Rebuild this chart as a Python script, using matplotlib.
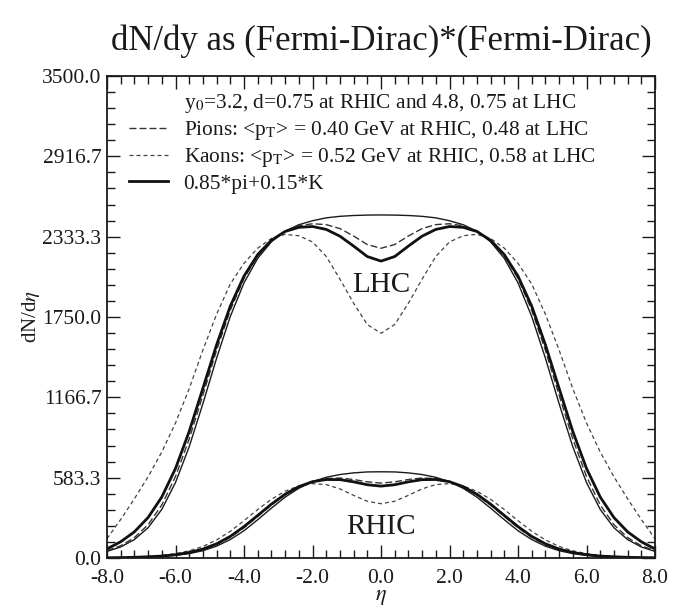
import matplotlib
matplotlib.use("Agg")
import matplotlib.pyplot as plt
from matplotlib.lines import Line2D
from matplotlib.ticker import MultipleLocator, FixedLocator, FormatStrFormatter

plt.rcParams['font.family'] = ['Liberation Serif', 'DejaVu Serif']
plt.rcParams['mathtext.fontset'] = 'stix'

# ---------------- data ----------------
eta = [-8.0, -7.6, -7.2, -6.8, -6.4, -6.0, -5.6, -5.2, -4.8, -4.4, -4.0,
       -3.6, -3.2, -2.8, -2.4, -2.0, -1.6, -1.2, -0.8, -0.4, 0.0,
       0.4, 0.8, 1.2, 1.6, 2.0, 2.4, 2.8, 3.2, 3.6, 4.0,
       4.4, 4.8, 5.2, 5.6, 6.0, 6.4, 6.8, 7.2, 7.6, 8.0]

# LHC
lhc_dndy = [48, 80, 134, 220, 353, 548, 808, 1121, 1451, 1754, 1998, 2176, 2296, 2373,
            2420, 2449, 2470, 2481, 2487, 2490, 2491, 2490, 2487, 2481, 2470, 2449,
            2420, 2373, 2296, 2176, 1998, 1754, 1451, 1121, 808, 548, 353, 220, 134, 80, 48]
lhc_pions = [53, 89, 148, 242, 385, 592, 864, 1183, 1509, 1800, 2031, 2195, 2305, 2375,
             2412, 2427, 2421, 2392, 2338, 2276, 2249, 2276, 2338, 2392, 2421, 2427,
             2412, 2375, 2305, 2195, 2031, 1800, 1509, 1183, 864, 592, 385, 242, 148, 89, 53]
lhc_kaons = [140, 280, 430, 590, 770, 980, 1230, 1510, 1770, 1990, 2140, 2250, 2320, 2350,
             2340, 2295, 2190, 2025, 1850, 1695, 1632, 1695, 1850, 2025, 2190, 2295,
             2340, 2350, 2320, 2250, 2140, 1990, 1770, 1510, 1230, 980, 770, 590, 430, 280, 140]
lhc_mix = [66, 118, 190, 294, 443, 650, 919, 1232, 1548, 1829, 2047, 2203, 2307, 2371,
           2401, 2407, 2386, 2337, 2265, 2189, 2156, 2189, 2265, 2337, 2386, 2407,
           2401, 2371, 2307, 2203, 2047, 1829, 1548, 1232, 919, 650, 443, 294, 190, 118, 66]

# RHIC
rhic_dndy = [1, 2, 4, 7, 12, 19, 32, 53, 86, 134, 198, 278, 362, 442, 506, 554, 586, 606,
             618, 625, 626, 625, 618, 606, 586, 554, 506, 442, 362, 278, 198, 134, 86, 53,
             32, 19, 12, 7, 4, 2, 1]
rhic_pions = [2, 3, 5, 8, 13, 22, 37, 61, 98, 150, 220, 302, 385, 459, 517, 556, 577, 581,
              570, 553, 544, 553, 570, 581, 577, 556, 517, 459, 385, 302, 220, 150, 98, 61,
              37, 22, 13, 8, 5, 3, 2]
rhic_kaons = [2, 4, 7, 11, 19, 32, 52, 84, 131, 194, 271, 352, 426, 485, 523, 540, 533, 502,
              455, 412, 394, 412, 455, 502, 533, 540, 523, 485, 426, 352, 271, 194, 131, 84,
              52, 32, 19, 11, 7, 4, 2]
rhic_mix = [2, 3, 5, 9, 14, 24, 40, 65, 103, 157, 228, 309, 391, 463, 518, 554, 570, 569,
            553, 532, 522, 532, 553, 569, 570, 554, 518, 463, 391, 309, 228, 157, 103, 65,
            40, 24, 14, 9, 5, 3, 2]

yticks = [0.0, 583.3, 1166.7, 1750.0, 2333.3, 2916.7, 3500.0]
xticks = [-8.0, -6.0, -4.0, -2.0, 0.0, 2.0, 4.0, 6.0, 8.0]

legend_labels = ["y$_0$=3.2, d=0.75 at RHIC and 4.8, 0.75 at LHC",
                 "Pions: <p$_{\\rm T}$> = 0.40 GeV at RHIC, 0.48 at LHC",
                 "Kaons: <p$_{\\rm T}$> = 0.52 GeV at RHIC, 0.58 at LHC",
                 "0.85*pi+0.15*K"]

# ---------------- figure ----------------
W, H = 675, 615
fig = plt.figure(figsize=(W / 100, H / 100), dpi=100)
fig.patch.set_facecolor('white')
L, R, T, B = 107, 655, 76, 558
ax = fig.add_axes([L / W, 1 - B / H, (R - L) / W, (B - T) / H])

ink = '#1a1a1a'
st_d = dict(color=ink, lw=1.0, ls='-')
st_p = dict(color='#333333', lw=1.0, ls=(0, (5, 2.2)))
st_k = dict(color='#444444', lw=0.9, ls=(0, (3.2, 2.4)))
st_m = dict(color='#111111', lw=2.0, ls='-')

for d, p, k, m in [(lhc_dndy, lhc_pions, lhc_kaons, lhc_mix),
                   (rhic_dndy, rhic_pions, rhic_kaons, rhic_mix)]:
    ax.plot(eta, d, **st_d)
    ax.plot(eta, k, **st_k)
    ax.plot(eta, p, **st_p)
    ax.plot(eta, m, **st_m)

ax.set_xlim(-8, 8)
ax.set_ylim(0, 3500)

ax.xaxis.set_major_locator(FixedLocator(xticks))
ax.xaxis.set_minor_locator(MultipleLocator(0.4))
ax.yaxis.set_major_locator(FixedLocator(yticks))
ax.yaxis.set_minor_locator(MultipleLocator(3500 / 30))
ax.xaxis.set_major_formatter(FormatStrFormatter('%.1f'))
ax.yaxis.set_major_formatter(FormatStrFormatter('%.1f'))

ax.tick_params(which='both', direction='in', top=True, right=True, colors=ink,
               labelsize=15.5, width=1.0)
ax.tick_params(which='major', length=9.5)
ax.tick_params(which='minor', length=5.5)
ax.tick_params(axis='y', which='major', pad=4)
ax.tick_params(axis='x', which='major', pad=8)
for s in ax.spines.values():
    s.set_linewidth(1.3)
    s.set_color(ink)

ax.set_xlabel('$\\eta$', fontsize=16, labelpad=0, color=ink)
ax.set_ylabel('dN/d$\\eta$', fontsize=15, labelpad=0, color=ink)

fig.text((L + R) / 2 / W, 1 - 41 / H, 'dN/dy as (Fermi-Dirac)*(Fermi-Dirac)',
         ha='center', va='center', fontsize=25, color=ink)

ax.text(0.0, 1985, 'LHC', ha='center', va='center', fontsize=21, color=ink)
ax.text(0.0, 225, 'RHIC', ha='center', va='center', fontsize=21, color=ink)

handles = [Line2D([], [], color='none'),
           Line2D([], [], **st_p),
           Line2D([], [], **st_k),
           Line2D([], [], **st_m)]
leg = ax.legend(handles, legend_labels, loc='upper left',
                bbox_to_anchor=(0.0246, 0.985), frameon=False, fontsize=15.4,
                handlelength=1.8, handletextpad=0.75, labelspacing=0.2,
                borderaxespad=0.0)
for t in leg.get_texts():
    t.set_color(ink)

fig.savefig('out.png', dpi=100)
